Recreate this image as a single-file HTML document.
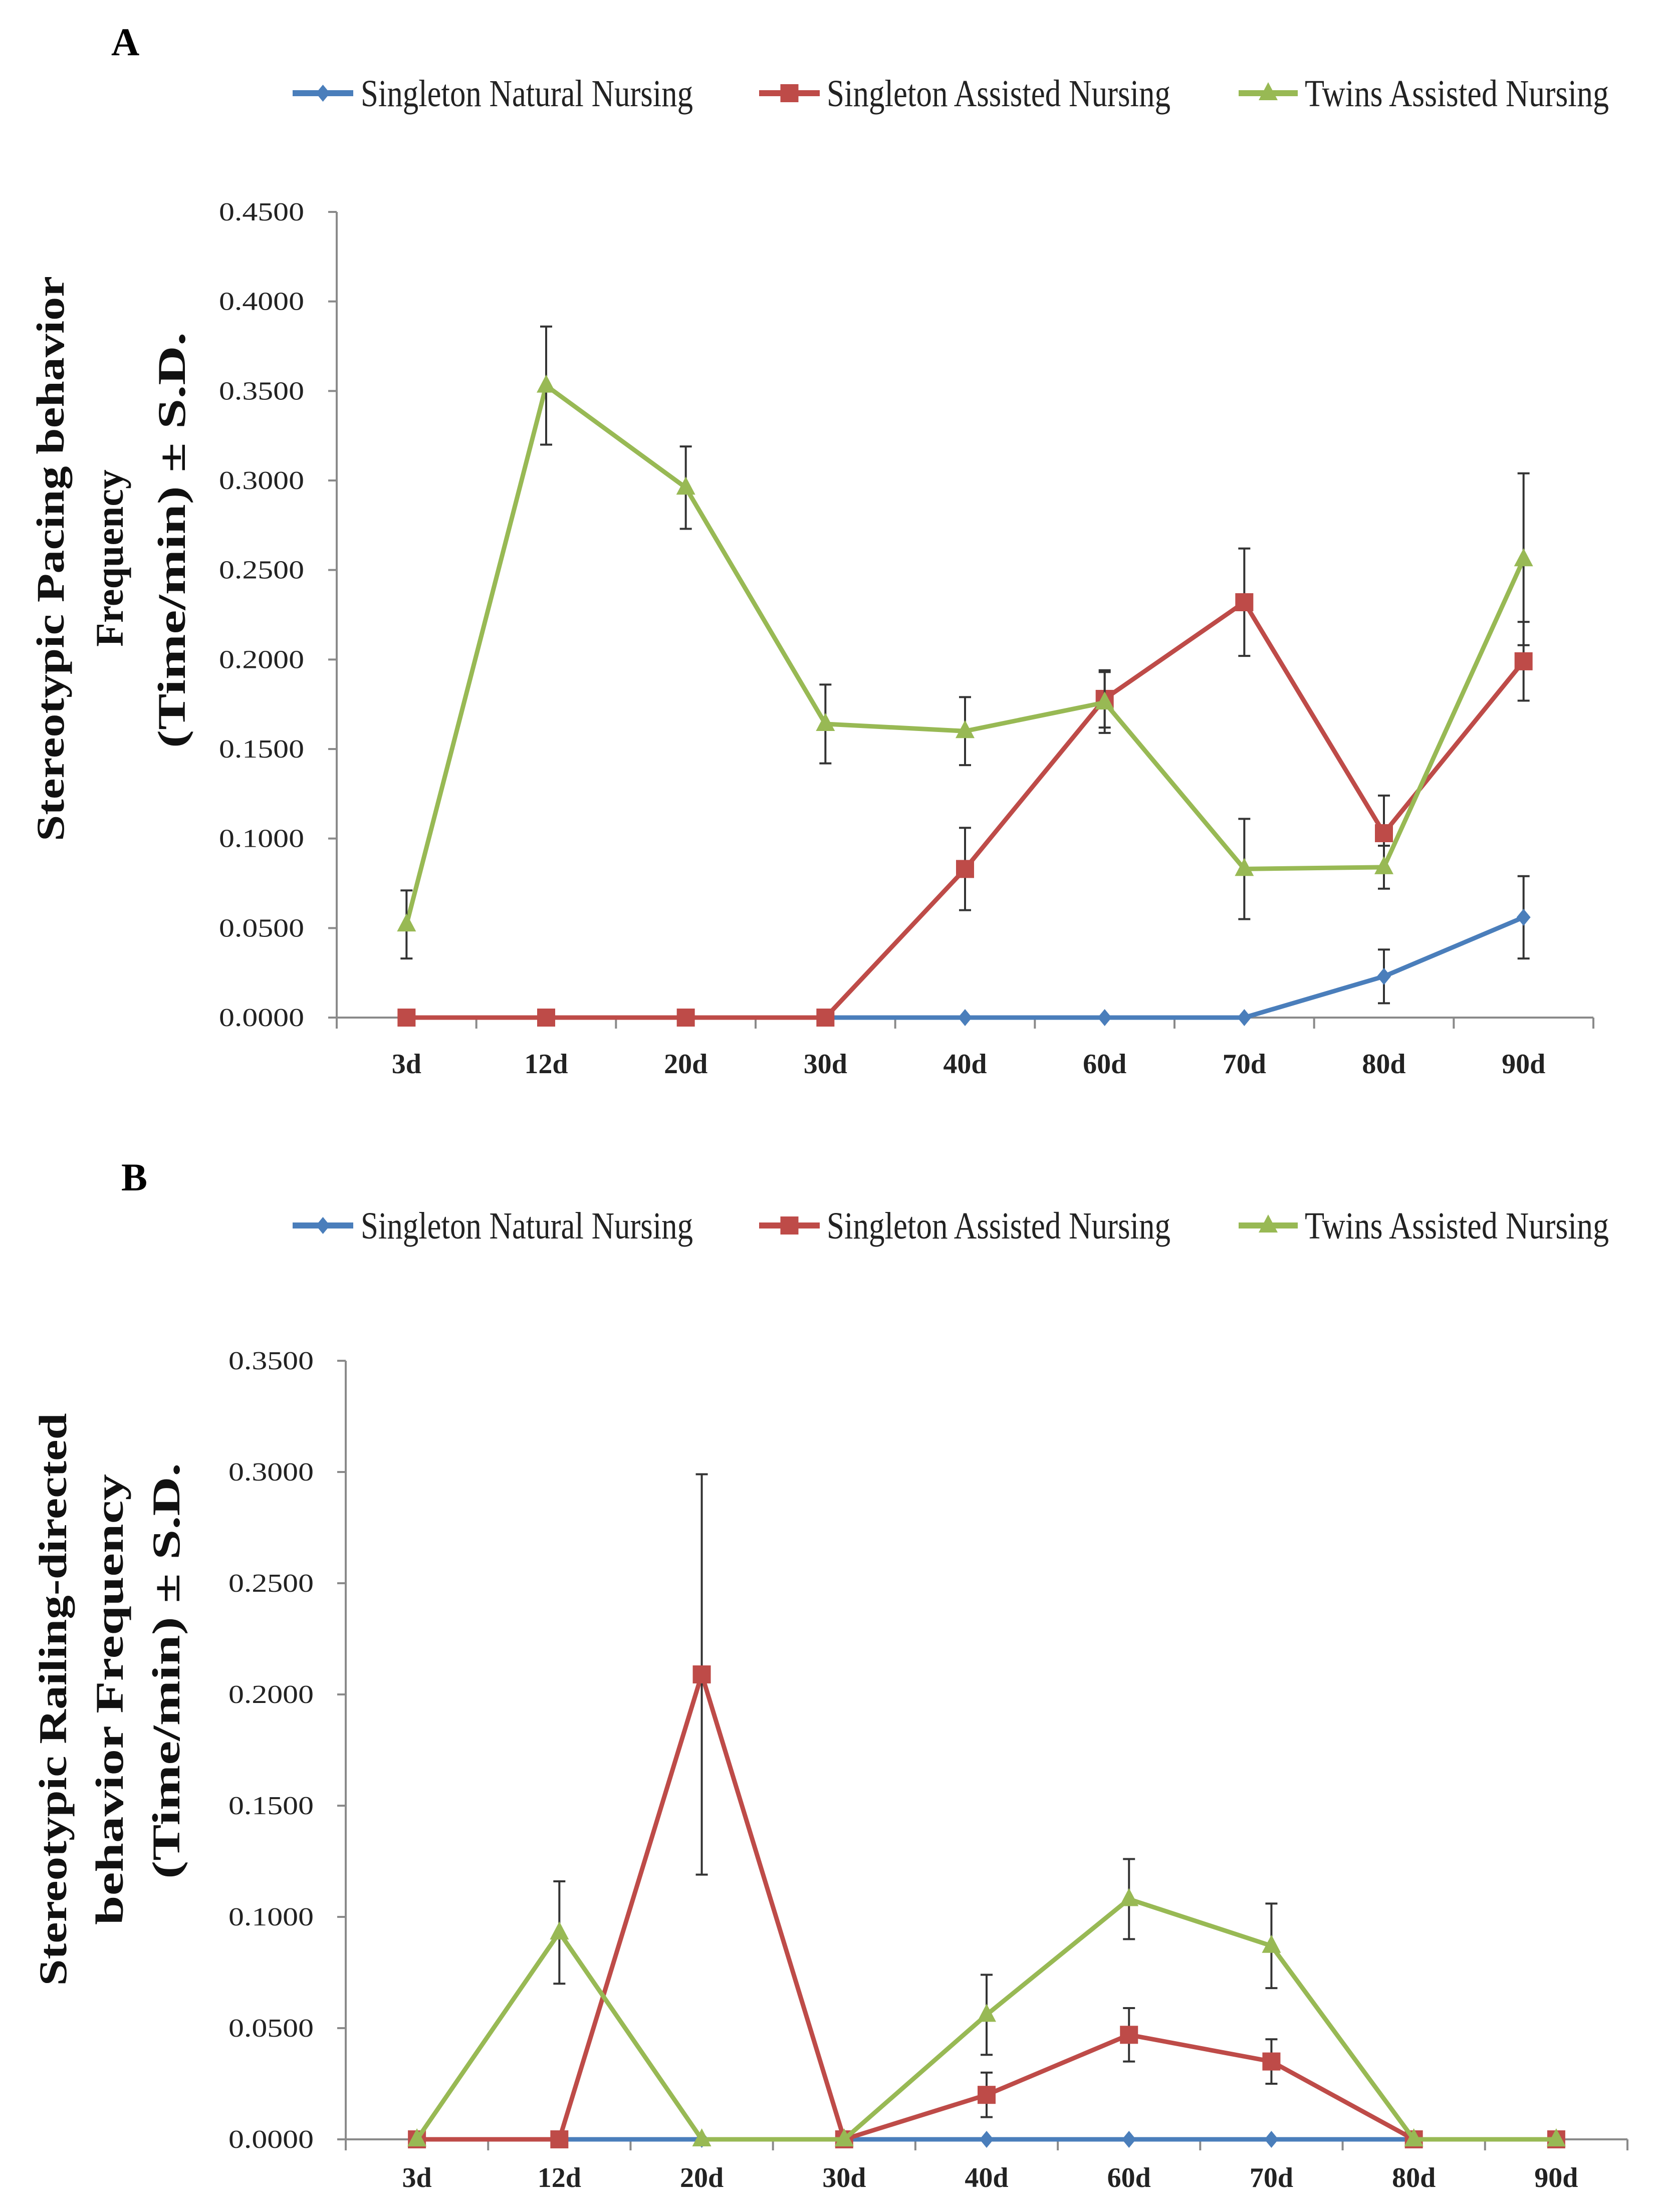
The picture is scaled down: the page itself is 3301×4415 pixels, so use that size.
<!DOCTYPE html>
<html><head><meta charset="utf-8"><style>
html,body{margin:0;padding:0;background:#fff;}
svg{display:block;}
text{font-family:"Liberation Serif",serif;}
</style></head><body>
<svg id="fig" width="3301" height="4415" viewBox="0 0 3301 4415" xmlns="http://www.w3.org/2000/svg">
<rect width="3301" height="4415" fill="#fff"/>
<text x="222" y="110" font-size="78" font-weight="bold">A</text>
<text x="242" y="2376" font-size="78" font-weight="bold">B</text>
<g id="chartA"></g>
<g id="chartB"></g>
</svg>
<script>
const categories = ["3d","12d","20d","30d","40d","60d","70d","80d","90d"];
const seriesNames = ["Singleton Natural Nursing","Singleton Assisted Nursing","Twins Assisted Nursing"];
const colors = ["#4a7ebb","#be4b48","#98b954"];
const ticksA = ["0.0000","0.0500","0.1000","0.1500","0.2000","0.2500","0.3000","0.3500","0.4000","0.4500"];
const ticksB = ["0.0000","0.0500","0.1000","0.1500","0.2000","0.2500","0.3000","0.3500"];
const aNatural = [0,0,0,0,0,0,0,0.023,0.056];
const aNaturalErr = [0,0,0,0,0,0,0,0.015,0.023];
const aAssisted = [0,0,0,0,0.083,0.178,0.232,0.103,0.199];
const aAssistedErr = [0,0,0,0,0.023,0.016,0.030,0.021,0.022];
const aTwins = [0.052,0.353,0.296,0.164,0.160,0.176,0.083,0.084,0.256];
const aTwinsErr = [0.019,0.033,0.023,0.022,0.019,0.017,0.028,0.012,0.048];
const bNatural = [0,0,0,0,0,0,0,0,0];
const bNaturalErr = [0,0,0,0,0,0,0,0,0];
const bAssisted = [0,0,0.209,0,0.020,0.047,0.035,0,0];
const bAssistedErr = [0,0,0.090,0,0.010,0.012,0.010,0,0];
const bTwins = [0,0.093,0,0,0.056,0.108,0.087,0,0];
const bTwinsErr = [0,0.023,0,0,0.018,0.018,0.019,0,0];

const NS="http://www.w3.org/2000/svg";
function mk(parent,tag,attrs,text){const e=document.createElementNS(NS,tag);for(const k in attrs)e.setAttribute(k,attrs[k]);if(text!==undefined)e.textContent=text;parent.appendChild(e);return e;}

function legend(g,y){
  const lines=[[584,705,720,663],[1515,1636,1650,686],[2472,2590,2604,607]];
  seriesNames.forEach((n,i)=>{
    const [x1,x2,tx,tl]=lines[i];
    const le=mk(g,'g',{});
    
    
    mk(le,'line',{x1:x1,x2:x2,y1:y,y2:y,stroke:colors[i],'stroke-width':12});
    marker(le,i,(x1+x2)/2,y);
    mk(le,'text',{x:tx,y:y+26,'font-size':76,textLength:tl,lengthAdjust:'spacingAndGlyphs',fill:'#222'},n);
  });
}
function marker(g,i,x,y){
  let m;
  if(i===0){m=mk(g,'polygon',{points:`${x},${y-17} ${x+14},${y} ${x},${y+17} ${x-14},${y}`,fill:colors[0]});}
  else if(i===1){m=mk(g,'rect',{x:x-18,y:y-18,width:36,height:36,fill:colors[1]});}
  else {m=mk(g,'polygon',{points:`${x},${y-22} ${x+19},${y+14} ${x-19},${y+14}`,fill:colors[2]});}
  return m;
}

function chart(g,cfg){
  const {left,right,y0,yTop,maxV,ticks,vals,errs,tickEnd,xLabY}=cfg;
  const band=(right-left)/categories.length;
  const xs=i=>left+band*(i+0.5);
  const ys=v=>y0-(v/maxV)*(y0-yTop);
  const ax=mk(g,'g',{});
  
  
  mk(ax,'line',{x1:left,x2:left,y1:yTop,y2:y0,stroke:'#8a8a8a','stroke-width':4});
  mk(ax,'line',{x1:left,x2:right,y1:y0,y2:y0,stroke:'#8a8a8a','stroke-width':4});
  ticks.forEach((t,i)=>{
    const v=parseFloat(t), y=ys(v);
    mk(ax,'line',{x1:left-17,x2:left,y1:y,y2:y,stroke:'#8a8a8a','stroke-width':4});
    const tl=mk(ax,'text',{x:tickEnd,y:y+17,'font-size':52,'text-anchor':'end',textLength:170,lengthAdjust:'spacingAndGlyphs',fill:'#222'},t);
    
    
  });
  for(let i=0;i<=categories.length;i++){
    mk(ax,'line',{x1:left+band*i,x2:left+band*i,y1:y0,y2:y0+22,stroke:'#8a8a8a','stroke-width':4});
  }
  categories.forEach((c,i)=>{
    const xl=mk(ax,'text',{x:xs(i),y:xLabY,'font-size':56,'font-weight':'bold','text-anchor':'middle',fill:'#222'},c);
    
    
  });
  vals.forEach((arr,s)=>{
    const sg=mk(g,'g',{});
    
    
    const pts=arr.map((v,i)=>xs(i)+','+ys(v)).join(' ');
    mk(sg,'polyline',{points:pts,fill:'none',stroke:colors[s],'stroke-width':9,'stroke-linejoin':'round'});
    arr.forEach((v,i)=>{
      const e=errs[s][i];
      if(e>0){
        const eb=mk(sg,'g',{stroke:'#333','stroke-width':4});
        
        
        mk(eb,'line',{x1:xs(i),x2:xs(i),y1:ys(v+e),y2:ys(v-e)});
        mk(eb,'line',{x1:xs(i)-12,x2:xs(i)+12,y1:ys(v+e),y2:ys(v+e)});
        mk(eb,'line',{x1:xs(i)-12,x2:xs(i)+12,y1:ys(v-e),y2:ys(v-e)});
      }
    });
    arr.forEach((v,i)=>{
      const m=marker(sg,s,xs(i),ys(v));
      
      
    });
  });
}

const gA=document.getElementById('chartA');
legend(gA,186);
chart(gA,{left:672,right:3180,y0:2031,yTop:423,maxV:0.45,ticks:ticksA,vals:[aNatural,aAssisted,aTwins],errs:[aNaturalErr,aAssistedErr,aTwinsErr],tickEnd:607,xLabY:2142});
const tA=mk(gA,'g',{'font-size':78,'font-weight':'bold',fill:'#111','text-anchor':'middle'});


mk(tA,'text',{transform:'translate(127,1115) rotate(-90)',textLength:1128,lengthAdjust:'spacingAndGlyphs'},'Stereotypic Pacing behavior');
mk(tA,'text',{transform:'translate(245,1114) rotate(-90)'},'Frequency');
mk(tA,'text',{transform:'translate(369,1078) rotate(-90)',textLength:830,lengthAdjust:'spacingAndGlyphs'},'(Time/min)  ± S.D.');

const gB=document.getElementById('chartB');
legend(gB,2446);
chart(gB,{left:690,right:3248,y0:4270,yTop:2716,maxV:0.35,ticks:ticksB,vals:[bNatural,bAssisted,bTwins],errs:[bNaturalErr,bAssistedErr,bTwinsErr],tickEnd:626,xLabY:4365});
const tB=mk(gB,'g',{'font-size':78,'font-weight':'bold',fill:'#111','text-anchor':'middle'});


mk(tB,'text',{transform:'translate(132,3392) rotate(-90)',textLength:1143,lengthAdjust:'spacingAndGlyphs'},'Stereotypic Railing-directed');
mk(tB,'text',{transform:'translate(245,3392) rotate(-90)',textLength:900,lengthAdjust:'spacingAndGlyphs'},'behavior Frequency');
mk(tB,'text',{transform:'translate(358,3335) rotate(-90)',textLength:830,lengthAdjust:'spacingAndGlyphs'},'(Time/min)  ± S.D.');
</script>
</body></html>
